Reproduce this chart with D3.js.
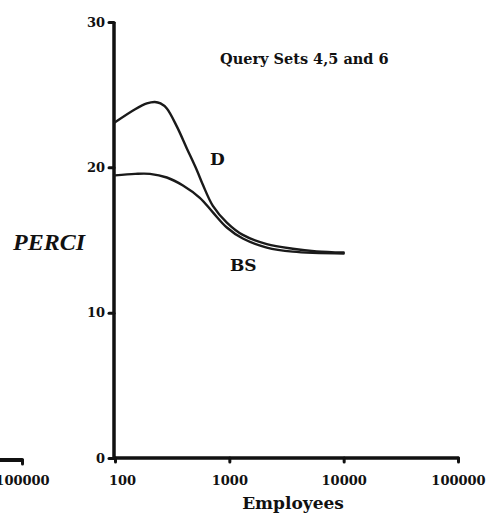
<!DOCTYPE html>
<html>
<head>
<meta charset="utf-8">
<script src="https://cdn.jsdelivr.net/npm/d3@7"></script>
<style>
  html, body { margin: 0; padding: 0; background: #fff; }
  svg { display: block; }
  .tick text { font-family: "DejaVu Serif", serif; font-weight: bold; font-size: 13px; fill: #111; }
</style>
</head>
<body>
<svg id="chart" width="489" height="523"></svg>
<script>
// ---- data ----
const xTickValues = [100, 1000, 10000, 100000];
const yTickValues = [0, 10, 20, 30];
const prevTickValues = [100000];   // only the last tick of the neighbouring chart is visible

const dEmployees = [100, 150, 190, 223, 250, 284, 348, 425, 520, 587, 718, 951, 1312, 2127, 3589, 5810, 10000];
const dPerci     = [23.1, 24.0, 24.4, 24.5, 24.4, 24.05, 22.8, 21.3, 19.8, 18.8, 17.35, 16.2, 15.35, 14.72, 14.4, 14.22, 14.14];

const bsEmployees = [100, 150, 202, 284, 393, 552, 718, 951, 1312, 2127, 3589, 10000];
const bsPerci     = [19.45, 19.55, 19.55, 19.3, 18.75, 17.9, 16.9, 15.86, 15.1, 14.48, 14.2, 14.07];

const seriesLabels = ["D", "BS"];
const title = "Query Sets 4,5 and 6";
const xTitle = "Employees";
const yTitle = "PERCI";

// ---- layout ----
const svg = d3.select("#chart");
const x0 = 115, x1 = 458, yBase = 458, yTop = 22;

const x = d3.scaleLog().domain([100, 100000]).range([x0, x1]);
const y = d3.scaleLinear().domain([0, 30]).range([yBase, yTop]);

// partial axis of the neighbouring chart at left (same scale, shifted)
const xPrev = d3.scaleLog().domain([100, 100000]).range([22 - (x1 - x0), 22]);
const gPrev = svg.append("g").attr("transform", `translate(0,${yBase + 2})`)
  .call(d3.axisBottom(xPrev).tickValues(prevTickValues).tickFormat(d3.format("d")).tickSize(4).tickPadding(12));
gPrev.select(".domain").attr("d", `M-10,0H22`).attr("stroke", "#111").attr("stroke-width", 4).attr("stroke-linecap", "round");
gPrev.selectAll(".tick line").attr("stroke", "#111").attr("stroke-width", 3).attr("stroke-linecap", "round");

// x axis
const gx = svg.append("g").attr("transform", `translate(0,${yBase})`)
  .call(d3.axisBottom(x).tickValues(xTickValues).tickFormat(d3.format("d")).tickSize(4).tickPadding(14));
gx.select(".domain").attr("d", `M${x0},0H${x1}`).attr("stroke", "#111").attr("stroke-width", 3.5).attr("stroke-linecap", "round");
gx.selectAll(".tick line").attr("stroke", "#111").attr("stroke-width", 3).attr("stroke-linecap", "round");
gx.selectAll(".tick text").filter(d => d === 100).attr("dx", 7);

// y axis
const gy = svg.append("g").attr("transform", `translate(${x0 - 1},0)`)
  .call(d3.axisLeft(y).tickValues(yTickValues).tickSize(5).tickPadding(4));
gy.select(".domain").attr("d", `M0,${yTop}V${yBase}`).attr("stroke", "#111").attr("stroke-width", 3.5);
gy.selectAll(".tick line").attr("stroke", "#111").attr("stroke-width", 3).attr("stroke-linecap", "round");

// series
const line = d3.line().x(d => x(d[0])).y(d => y(d[1])).curve(d3.curveCatmullRom.alpha(0.5));
const dData = dEmployees.map((e, i) => [e, dPerci[i]]);
const bsData = bsEmployees.map((e, i) => [e, bsPerci[i]]);

[dData, bsData].forEach(data => {
  svg.append("path").datum(data).attr("d", line)
    .attr("fill", "none").attr("stroke", "#1a1a1a").attr("stroke-width", 2.4)
    .attr("stroke-linecap", "round");
});

// labels
svg.append("text").attr("x", 210).attr("y", 165).text(seriesLabels[0])
  .attr("font-family", "DejaVu Serif").attr("font-weight", "bold").attr("font-size", 17).attr("fill", "#111");
svg.append("text").attr("x", 230).attr("y", 271).text(seriesLabels[1])
  .attr("font-family", "DejaVu Serif").attr("font-weight", "bold").attr("font-size", 17).attr("fill", "#111");

svg.append("text").attr("x", 220).attr("y", 64).text(title)
  .attr("font-family", "DejaVu Serif").attr("font-weight", "bold").attr("font-size", 14.5).attr("fill", "#111");

svg.append("text").attr("x", 293).attr("y", 509).attr("text-anchor", "middle").text(xTitle)
  .attr("font-family", "DejaVu Serif").attr("font-weight", "bold").attr("font-size", 17).attr("fill", "#111");

svg.append("text").attr("x", 13).attr("y", 250).text(yTitle)
  .attr("font-family", "Liberation Serif").attr("font-style", "italic").attr("font-weight", "bold")
  .attr("font-size", 24).attr("fill", "#111");
</script>
</body>
</html>
